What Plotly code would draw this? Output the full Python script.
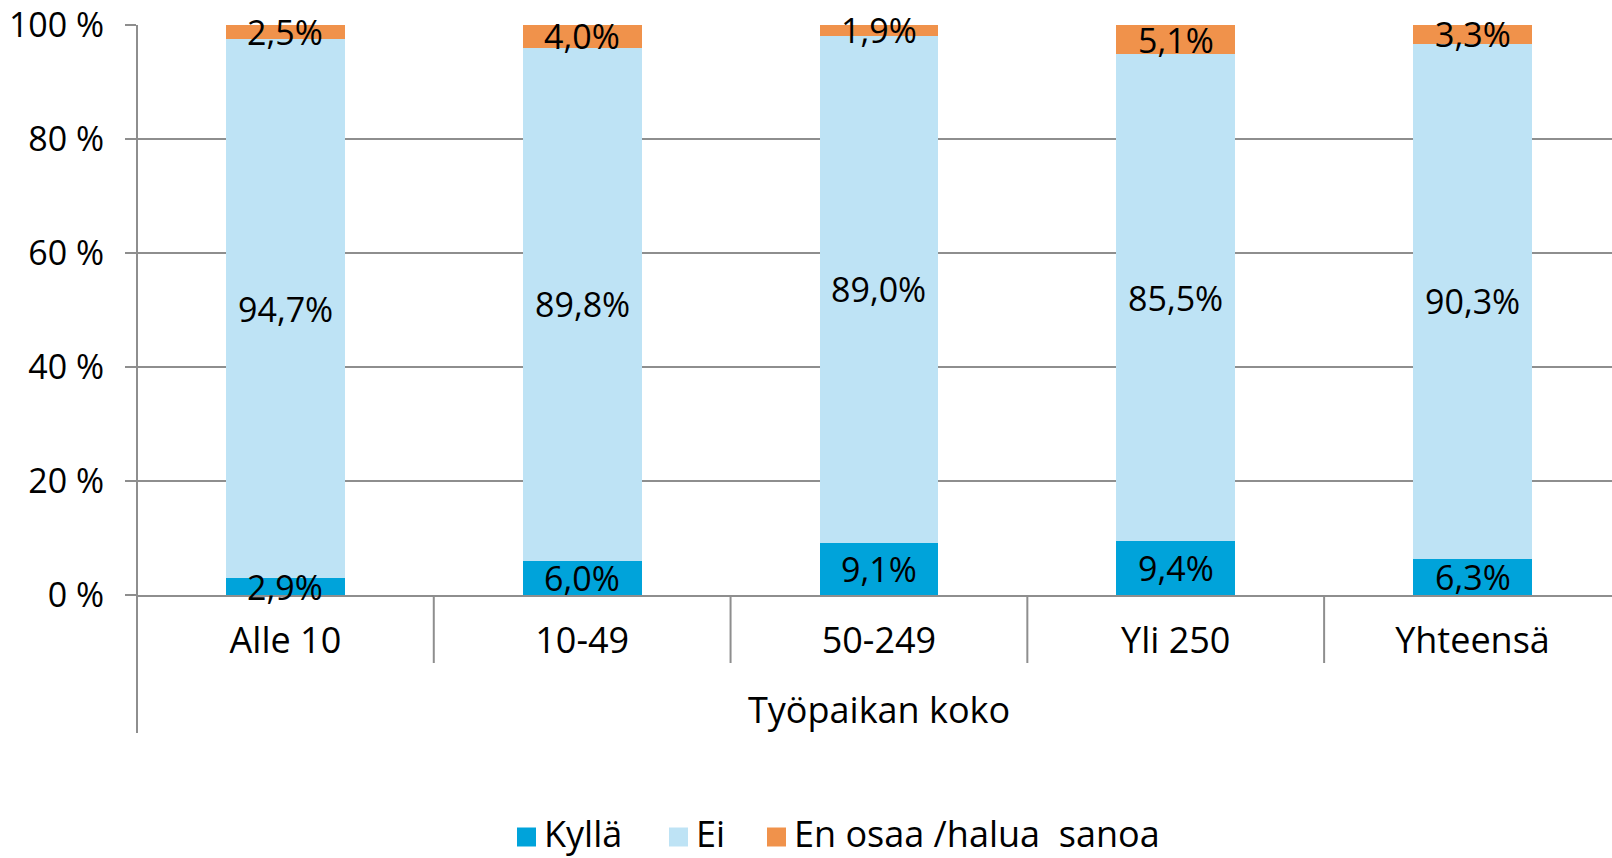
import plotly.graph_objects as go

# Workplace size categories and answer shares (%)
categories = ["Alle 10", "10-49", "50-249", "Yli 250", "Yhteensä"]
kylla = [2.9, 6.0, 9.1, 9.4, 6.3]
ei = [94.7, 89.8, 89.0, 85.5, 90.3]
en_osaa = [2.5, 4.0, 1.9, 5.1, 3.3]

series_names = ["Kyllä", "Ei", "En osaa /halua\u00a0 sanoa"]
series_values = [kylla, ei, en_osaa]
series_colors = ["#00A3DA", "#BEE3F5", "#F0924B"]

y_ticks = [0, 20, 40, 60, 80, 100]
x_title = "Työpaikan koko"

FONT = "Open Sans"
LABEL_SIZE = 34
TEXT_SIZE = 36
GRID = "#8E8E8E"

W, H = 1612, 858
M_L, M_R, M_T, M_B = 137, 0, 25, 263
PLOT_W = W - M_L - M_R
PLOT_H = H - M_T - M_B


def px_x(px):
    """Horizontal pixel position -> paper fraction."""
    return (px - M_L) / PLOT_W


def px_y(py):
    """Vertical pixel position (from top) -> paper fraction."""
    return (H - M_B - py) / PLOT_H


def fi_pct(v):
    return f"{v:.1f}".replace(".", ",") + "%"


fig = go.Figure()

# stacked bars, normalised to 100 % per category
for name, vals, col in zip(series_names, series_values, series_colors):
    fig.add_trace(go.Bar(
        x=categories, y=vals, name=name,
        marker=dict(color=col, line=dict(width=0)),
        width=0.4, showlegend=False, hoverinfo="skip",
    ))

annotations = []

# value labels at the middle of each normalised segment
totals = [sum(t) for t in zip(*series_values)]
bottoms = [0.0] * len(categories)
for vals in series_values:
    for cat, b, v, t in zip(categories, bottoms, vals, totals):
        annotations.append(dict(
            x=cat, y=(b + v / 2) / t * 100, xref="x", yref="y",
            text=fi_pct(v), showarrow=False,
            xanchor="center", yanchor="middle",
            font=dict(family=FONT, size=LABEL_SIZE, color="black"),
        ))
    bottoms = [b + v for b, v in zip(bottoms, vals)]

n = len(categories)

# axis title under the category labels
annotations.append(dict(
    text=x_title, xref="x", yref="paper",
    x=(n - 1) / 2, y=px_y(709), yanchor="middle", showarrow=False,
    font=dict(family=FONT, size=TEXT_SIZE, color="black"),
))

shapes = []
# category dividers hanging below the axis
for i in range(n - 1):
    shapes.append(dict(type="line", xref="x", yref="paper",
                       x0=i + 0.5, x1=i + 0.5, y0=0, y1=px_y(663),
                       line=dict(color=GRID, width=2)))
# value axis line continued down past the category labels
shapes.append(dict(type="line", xref="paper", yref="paper",
                   x0=0, x1=0, y0=1, y1=px_y(733),
                   line=dict(color=GRID, width=2)))

# legend: square swatch followed by series name
legend_swatch_left = [517, 669, 767]
SW = 19
LEG_Y = 833
SWATCH_Y = 837
for name, col, left in zip(series_names, series_colors, legend_swatch_left):
    shapes.append(dict(type="rect", xref="paper", yref="paper",
                       x0=px_x(left), x1=px_x(left + SW),
                       y0=px_y(SWATCH_Y - SW / 2), y1=px_y(SWATCH_Y + SW / 2),
                       fillcolor=col, line=dict(width=0)))
    annotations.append(dict(
        text=name, xref="paper", yref="paper",
        x=px_x(left + SW + 7), y=px_y(LEG_Y), xanchor="left", yanchor="middle",
        showarrow=False, borderpad=0,
        font=dict(family=FONT, size=TEXT_SIZE, color="black"),
    ))

fig.update_layout(
    width=W, height=H, autosize=False,
    barmode="stack", barnorm="percent",
    plot_bgcolor="white", paper_bgcolor="white",
    margin=dict(l=M_L, r=M_R, t=M_T, b=M_B, pad=0, autoexpand=False),
    font=dict(family=FONT, size=TEXT_SIZE, color="black"),
    showlegend=False,
    shapes=shapes,
    annotations=annotations,
)

fig.update_xaxes(
    type="category",
    range=[-0.5, n - 0.53],
    showgrid=False,
    showline=True, linecolor=GRID, linewidth=2,
    ticks="",
    ticklabelstandoff=13,
    tickfont=dict(family=FONT, size=TEXT_SIZE, color="black"),
)
fig.update_yaxes(
    range=[0, 100],
    tickvals=y_ticks,
    ticktext=[f"{t} %" for t in y_ticks],
    showgrid=True, gridcolor=GRID, gridwidth=2,
    showline=False,
    zeroline=False,
    ticks="outside", ticklen=11, tickcolor=GRID, tickwidth=2,
    ticklabelstandoff=14,
    tickfont=dict(family=FONT, size=LABEL_SIZE, color="black"),
)

fig.write_html("out.html")
